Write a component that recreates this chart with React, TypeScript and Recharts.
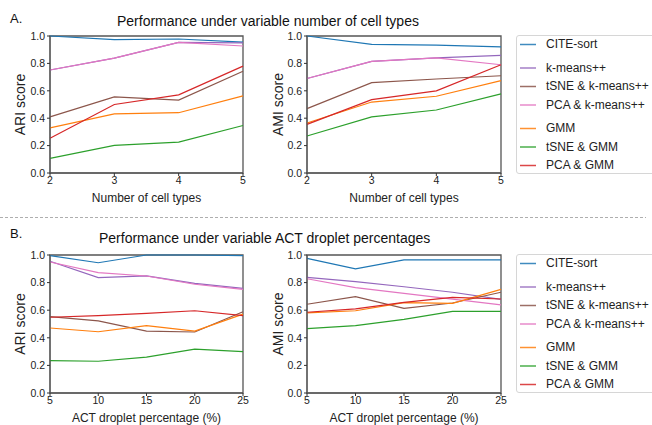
import { LineChart, Line, XAxis, YAxis, ReferenceArea } from "recharts";

const methods = [
  "CITE-sort",
  "k-means++",
  "tSNE & k-means++",
  "PCA & k-means++",
  "GMM",
  "tSNE & GMM",
  "PCA & GMM",
];
const colors = ["#1f77b4", "#9467bd", "#8c564b", "#e377c2", "#ff7f0e", "#2ca02c", "#d62728"];
// legend rows that start a new group
const legendBreaks = [1, 4];

const cellTypes = [2, 3, 4, 5];
const dropletPct = [5, 10, 15, 20, 25];
const scoreTicks = [0, 0.2, 0.4, 0.6, 0.8, 1.0];

// one row per method, same order as `methods`
const ariCellTypes = [
  [1.0, 0.974, 0.978, 0.956],
  [0.752, 0.839, 0.954, 0.95],
  [0.41, 0.556, 0.532, 0.743],
  [0.752, 0.839, 0.954, 0.927],
  [0.33, 0.432, 0.44, 0.563],
  [0.107, 0.202, 0.226, 0.347],
  [0.253, 0.5, 0.57, 0.78],
];
const amiCellTypes = [
  [1.0, 0.939, 0.934, 0.92],
  [0.69, 0.815, 0.84, 0.859],
  [0.47, 0.66, 0.686, 0.71],
  [0.69, 0.815, 0.84, 0.79],
  [0.365, 0.518, 0.56, 0.674],
  [0.27, 0.41, 0.46, 0.577],
  [0.355, 0.535, 0.6, 0.79],
];
const ariDroplet = [
  [0.995, 0.944, 1.0, 1.0, 0.995],
  [0.955, 0.836, 0.848, 0.795, 0.758],
  [0.553, 0.522, 0.449, 0.442, 0.589],
  [0.949, 0.872, 0.848, 0.788, 0.751],
  [0.471, 0.444, 0.488, 0.449, 0.572],
  [0.235, 0.23, 0.26, 0.318, 0.3],
  [0.549, 0.56, 0.577, 0.596, 0.56],
];
const amiDroplet = [
  [0.976, 0.899, 0.964, 0.964, 0.964],
  [0.838, 0.807, 0.77, 0.73, 0.679],
  [0.643, 0.698, 0.614, 0.652, 0.73],
  [0.828, 0.763, 0.722, 0.68, 0.638],
  [0.58, 0.596, 0.655, 0.65, 0.751],
  [0.466, 0.488, 0.534, 0.592, 0.592],
  [0.585, 0.609, 0.657, 0.693, 0.681],
];

const FONT = '"Liberation Sans", Arial, sans-serif';

interface PanelProps {
  left: number;
  top: number;
  xs: number[];
  values: number[][];
  xLabel: string;
  yLabel: string;
  yAxisWidth: number;
  marginRight: number;
  marginTop: number;
  yLabelOffset: number;
}

function Panel(p: PanelProps) {
  const data = p.xs.map((x, i) => {
    const row: Record<string, number> = { x };
    p.values.forEach((v, k) => (row["s" + k] = v[i]));
    return row;
  });
  const tickStyle = { fontSize: 10.5, fill: "#222" };
  return (
    <div style={{ position: "absolute", left: p.left, top: p.top }}>
      <LineChart
        width={260}
        height={210}
        data={data}
        margin={{ top: p.marginTop, right: p.marginRight, left: 0, bottom: 0 }}
      >
        <XAxis
          dataKey="x"
          type="number"
          domain={[p.xs[0], p.xs[p.xs.length - 1]]}
          ticks={p.xs}
          height={37}
          tick={tickStyle}
          tickSize={3}
          tickMargin={1}
          tickLine={{ stroke: "#333" }}
          axisLine={{ stroke: "#555" }}
          label={{ value: p.xLabel, position: "insideBottom", offset: 8, fontSize: 12, fill: "#222" }}
        />
        <YAxis
          type="number"
          domain={[0, 1]}
          ticks={scoreTicks}
          width={p.yAxisWidth}
          tick={tickStyle}
          tickSize={3}
          tickMargin={2}
          tickLine={{ stroke: "#333" }}
          axisLine={{ stroke: "#555" }}
          tickFormatter={(v: number) => v.toFixed(1)}
          label={{
            value: p.yLabel,
            angle: -90,
            position: "insideLeft",
            offset: p.yLabelOffset,
            fontSize: 14,
            fill: "#222",
            style: { textAnchor: "middle" },
          }}
        />
        {methods.map((m, k) => (
          <Line
            key={m}
            type="linear"
            dataKey={"s" + k}
            name={m}
            stroke={colors[k]}
            strokeWidth={1.2}
            dot={false}
            isAnimationActive={false}
          />
        ))}
        <ReferenceArea
          x1={p.xs[0]}
          x2={p.xs[p.xs.length - 1]}
          y1={0}
          y2={1}
          fill="none"
          stroke="#555"
          strokeWidth={1.3}
        />
      </LineChart>
    </div>
  );
}

function MethodLegend({ top }: { top: number }) {
  const rowY = (i: number) => 8 + i * 18.5 + legendBreaks.filter((b) => i >= b).length * 5;
  return (
    <div
      style={{
        position: "absolute",
        left: 516,
        top,
        width: 145,
        height: 137,
        border: "1px solid #d6d6d6",
        borderRadius: 3,
        background: "#fff",
      }}
    >
      <svg style={{ position: "absolute", left: 0, top: 0 }} width={30} height={137}>
        {methods.map((m, i) => (
          <line
            key={m}
            x1={3}
            x2={19}
            y1={rowY(i) + 0.5}
            y2={rowY(i) + 0.5}
            stroke={colors[i]}
            strokeWidth={1.5}
            strokeOpacity={0.85}
          />
        ))}
      </svg>
      {methods.map((m, i) => (
        <div
          key={m}
          style={{
            position: "absolute",
            left: 29,
            top: rowY(i) - 8,
            fontSize: 12,
            lineHeight: "16px",
            color: "#222",
            whiteSpace: "nowrap",
          }}
        >
          {m}
        </div>
      ))}
    </div>
  );
}

export default function App() {
  const title = { position: "absolute" as const, fontSize: 14, lineHeight: "16px", color: "#111", whiteSpace: "nowrap" as const };
  return (
    <div
      style={{
        position: "absolute",
        left: 0,
        top: 0,
        width: 652,
        height: 425,
        background: "#fff",
        overflow: "hidden",
        fontFamily: FONT,
      }}
    >
      <div style={{ ...title, left: 10, top: 11, fontSize: 13 }}>A.</div>
      <div style={{ ...title, left: 117, top: 13 }}>Performance under variable number of cell types</div>
      <div style={{ ...title, left: 10, top: 226, fontSize: 13 }}>B.</div>
      <div style={{ ...title, left: 99, top: 230 }}>Performance under variable ACT droplet percentages</div>

      <svg style={{ position: "absolute", left: 0, top: 212 }} width={652} height={10}>
        <line x1={0} y1={5.5} x2={646} y2={5.5} stroke="#999" strokeWidth={0.8} strokeDasharray="3 2" />
      </svg>

      <Panel
        left={0}
        top={0}
        xs={cellTypes}
        values={ariCellTypes}
        xLabel="Number of cell types"
        yLabel="ARI score"
        yAxisWidth={50}
        marginRight={17}
        marginTop={36}
        yLabelOffset={20}
      />
      <Panel
        left={250}
        top={0}
        xs={cellTypes}
        values={amiCellTypes}
        xLabel="Number of cell types"
        yLabel="AMI score"
        yAxisWidth={57}
        marginRight={9}
        marginTop={36}
        yLabelOffset={28}
      />
      <Panel
        left={0}
        top={220}
        xs={dropletPct}
        values={ariDroplet}
        xLabel="ACT droplet percentage (%)"
        yLabel="ARI score"
        yAxisWidth={50}
        marginRight={17}
        marginTop={35}
        yLabelOffset={20}
      />
      <Panel
        left={250}
        top={220}
        xs={dropletPct}
        values={amiDroplet}
        xLabel="ACT droplet percentage (%)"
        yLabel="AMI score"
        yAxisWidth={57}
        marginRight={9}
        marginTop={35}
        yLabelOffset={28}
      />

      <MethodLegend top={35} />
      <MethodLegend top={254} />
    </div>
  );
}
